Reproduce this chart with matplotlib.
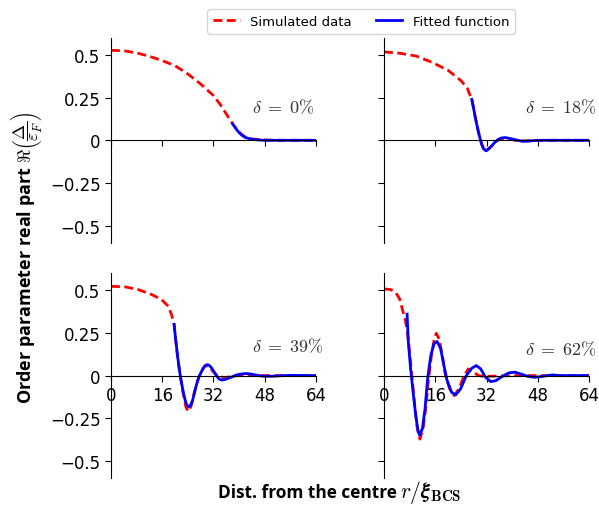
import matplotlib
matplotlib.use("Agg")
import matplotlib.pyplot as plt
from matplotlib.lines import Line2D

plt.rcParams["mathtext.fontset"] = "cm"
plt.rcParams["font.family"] = "DejaVu Sans"

deltas = ["0", "18", "39", "62"]

# simulated order parameter (red dashed), r in units of xi_BCS
r_sim_0 = [0, 4, 8, 12, 16, 20, 24, 28, 32, 34, 36, 38, 40, 42, 44, 48, 52, 64]
d_sim_0 = [0.527, 0.525, 0.512, 0.492, 0.467, 0.437, 0.389, 0.33, 0.262, 0.213,
           0.154, 0.096, 0.047, 0.018, 0.008, 0.002, 0.0, 0.0]

r_sim_18 = [0, 5, 10, 15, 20, 24, 26, 27.4, 28.4, 29.4, 30.5, 31.8, 33.6, 35.7,
            37.8, 40, 42, 44, 48, 64]
d_sim_18 = [0.518, 0.51, 0.494, 0.457, 0.41, 0.35, 0.305, 0.24, 0.145, 0.055,
            -0.025, -0.062, -0.035, 0.004, 0.012, 0.004, -0.004, -0.004, 0.0, 0.0]

r_sim_39 = [0, 4.4, 8.5, 12.7, 15.8, 17.9, 18.9, 19.7, 20.2, 20.8, 21.5, 22.6,
            23.4, 24.1, 25, 26, 27, 28.3, 29.5, 30.8, 32, 33.5, 35.5, 38, 40, 64]
d_sim_39 = [0.523, 0.52, 0.504, 0.475, 0.445, 0.406, 0.357, 0.30, 0.21, 0.11,
            0.01, -0.11, -0.185, -0.21, -0.18, -0.10, -0.03, 0.03, 0.06, 0.05,
            0.02, -0.005, -0.012, -0.004, 0.0, 0.0]

r_sim_62 = [0, 2.1, 3.6, 4.9, 5.7, 6.6, 7.3, 8, 8.8, 9.7, 10.4, 11.2, 12.2, 13,
            13.8, 14.8, 15.6, 16.3, 17.2, 18.2, 19.2, 20.5, 21.9, 23.4, 25,
            26.3, 27.6, 29.1, 30.7, 32.8, 40, 64]
d_sim_62 = [0.508, 0.504, 0.488, 0.449, 0.39, 0.33, 0.254, 0.137, -0.02, -0.195,
            -0.31, -0.372, -0.31, -0.195, -0.04, 0.117, 0.205, 0.248, 0.215,
            0.117, 0.0, -0.078, -0.117, -0.078, 0.0, 0.039, 0.03, 0.004,
            -0.004, -0.004, 0.0, 0.0]

# fitted function (blue solid)
r_fit_0 = [38, 39, 40, 41, 42, 44, 46, 48, 64]
d_fit_0 = [0.096, 0.068, 0.045, 0.028, 0.016, 0.006, 0.002, 0.0, 0.0]

r_fit_18 = [27.4, 28, 28.4, 29, 29.4, 30, 30.5, 31, 31.8, 32.6, 33.6, 34.6,
            35.7, 36.7, 37.8, 39, 40.4, 41.7, 43, 44.8, 46.6, 50, 64]
d_fit_18 = [0.24, 0.185, 0.143, 0.09, 0.055, 0.01, -0.023, -0.048, -0.062,
            -0.052, -0.033, -0.012, 0.006, 0.014, 0.016, 0.012, 0.006, 0.0,
            -0.005, -0.005, -0.002, 0.0, 0.0]

r_fit_39 = [19.7, 20.2, 20.8, 21.5, 22, 22.6, 23.1, 23.6, 24.3, 24.8, 25.4, 26,
            26.7, 27.5, 28.3, 29.1, 29.9, 30.5, 31.2, 32, 32.7, 33.4, 34, 34.8,
            35.6, 36.6, 37.7, 38.7, 39.7, 41, 42.4, 43.7, 45, 46.3, 47.6, 50.2,
            53, 56, 64]
d_fit_39 = [0.30, 0.21, 0.113, 0.016, -0.04, -0.10, -0.14, -0.17, -0.184,
            -0.175, -0.15, -0.105, -0.053, -0.005, 0.025, 0.052, 0.064, 0.062,
            0.05, 0.028, 0.006, -0.012, -0.023, -0.026, -0.023, -0.016, -0.008,
            0.0, 0.006, 0.01, 0.012, 0.009, 0.004, 0.0, -0.004, -0.004, -0.001,
            0.001, 0.0]

r_fit_62 = [7.2, 7.6, 8.3, 9.2, 9.9, 10.6, 11.1, 12, 12.8, 13.6, 14.6, 15.6,
            16.6, 17.7, 18.7, 19.7, 21.1, 22.4, 23.9, 25.7, 27.4, 28.8, 30.2,
            31.7, 33.3, 34.9, 37, 39, 40.9, 42.6, 44.8, 46.9, 49, 51.1, 52.6,
            54.6, 64]
d_fit_62 = [0.36, 0.195, 0.039, -0.117, -0.234, -0.322, -0.35, -0.31, -0.195,
            -0.02, 0.117, 0.186, 0.2, 0.156, 0.059, -0.029, -0.098, -0.113,
            -0.078, 0.0, 0.043, 0.059, 0.039, -0.01, -0.035, -0.03, -0.004,
            0.016, 0.02, 0.01, -0.004, -0.01, -0.006, 0.0, 0.004, 0.0, 0.0]

sims = [(r_sim_0, d_sim_0), (r_sim_18, d_sim_18), (r_sim_39, d_sim_39), (r_sim_62, d_sim_62)]
fits = [(r_fit_0, d_fit_0), (r_fit_18, d_fit_18), (r_fit_39, d_fit_39), (r_fit_62, d_fit_62)]
label_pos = [(53.7, 0.195), (55, 0.195), (55, 0.173), (55, 0.155)]

xticks = [0, 16, 32, 48, 64]
yticks = [-0.5, -0.25, 0, 0.25, 0.5]
yticklabels = ["\u22120.5", "\u22120.25", "0", "0.25", "0.5"]

fig = plt.figure(figsize=(5.99, 5.06), dpi=100)
boxes = [[0.1853, 0.5184, 0.3422, 0.4047], [0.6411, 0.5184, 0.3422, 0.4047],
         [0.1853, 0.0534, 0.3422, 0.4047], [0.6411, 0.0534, 0.3422, 0.4047]]

for i, box in enumerate(boxes):
    ax = fig.add_axes(box)
    ax.plot(*sims[i], color="red", ls="--", lw=2, dashes=(3.2, 1.6))
    ax.plot(*fits[i], color="blue", lw=2)
    ax.set_xlim(0, 64)
    ax.set_ylim(-0.6, 0.6)
    ax.spines["top"].set_visible(False)
    ax.spines["right"].set_visible(False)
    ax.spines["bottom"].set_position(("data", 0))
    ax.set_xticks(xticks)
    ax.set_yticks(yticks)
    ax.tick_params(labelsize=12, length=4)
    if i < 2:
        ax.set_xticklabels([])
    if i % 2 == 1:
        ax.set_yticklabels([])
    else:
        ax.set_yticklabels(yticklabels)
    ax.text(*label_pos[i], r"$\delta\;=\;%s\%%$" % deltas[i], fontsize=13,
            ha="center", va="center", color="#333333")

handles = [Line2D([], [], color="red", ls="--", lw=2, dashes=(3.2, 1.6)),
           Line2D([], [], color="blue", lw=2)]
fig.legend(handles, ["Simulated data", "Fitted function"], loc="upper center",
           bbox_to_anchor=(0.603, 0.993), ncol=2, fontsize=9.5, handlelength=2.0,
           columnspacing=1.8, borderpad=0.45)

# axis titles: bold words plus a larger math part
fig.text(0.0426, 1 - 258 / 506,
         r"Order parameter real part $\Re\left(\dfrac{\Delta}{\varepsilon_F}\right)$",
         rotation=90, ha="center", va="center", fontsize=13, fontweight="bold",
         family="Open Sans")
fig.text(218 / 599, 0.016, "Dist. from the centre", ha="left", va="baseline",
         fontsize=12.4, fontweight="bold", family="Open Sans")
fig.text(400 / 599, 0.016, r"$r/\boldsymbol{\xi}_{\mathbf{BCS}}$", ha="left",
         va="baseline", fontsize=15.5)

fig.savefig("out.png", dpi=100)
